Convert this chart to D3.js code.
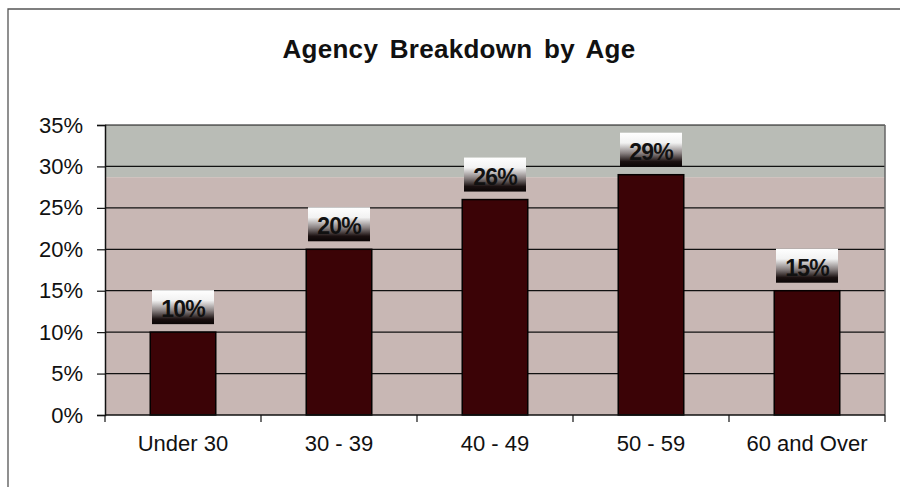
<!DOCTYPE html>
<html>
<head>
<meta charset="utf-8">
<script src="https://cdn.jsdelivr.net/npm/d3@7"></script>
<style>
  html, body { margin: 0; padding: 0; background: #fff; }
  svg { display: block; }
  text { font-family: Arial, "Liberation Sans", sans-serif; }
</style>
</head>
<body>
<svg id="chart" width="900" height="487"></svg>
<script>
// Age groups and their share of agency staff (%)
const categories = ["Under 30", "30 - 39", "40 - 49", "50 - 59", "60 and Over"];
const shares = [10, 20, 26, 29, 15];
const yTicks = [0, 5, 10, 15, 20, 25, 30, 35];
const title = "Agency Breakdown by Age";

const svg = d3.select("#chart");
const W = 900, H = 487;
const plot = { left: 105, right: 885, top: 125, bottom: 415 };

const x = d3.scaleBand()
  .domain(categories)
  .range([plot.left, plot.right])
  .paddingInner(0.58)
  .paddingOuter(0.29);

const y = d3.scaleLinear().domain([0, 35]).range([plot.bottom, plot.top]);

// outer frame (top and left edges)
svg.append("path")
  .attr("d", `M8,${H} L8,9 L${W},9`)
  .attr("fill", "none")
  .attr("stroke", "#555")
  .attr("stroke-width", 1.3);

// title
svg.append("text")
  .attr("x", 459)
  .attr("y", 58)
  .attr("text-anchor", "middle")
  .attr("font-size", 26)
  .attr("font-weight", "bold")
  .attr("word-spacing", 4)
  .attr("letter-spacing", 0.3)
  .attr("fill", "#111")
  .text(title);

// plot background: grey upper band and pinkish body
const bandEdge = y(28.7);
svg.append("rect")
  .attr("x", plot.left).attr("y", plot.top)
  .attr("width", plot.right - plot.left)
  .attr("height", bandEdge - plot.top)
  .attr("fill", "#b9bcb6");
svg.append("rect")
  .attr("x", plot.left).attr("y", bandEdge)
  .attr("width", plot.right - plot.left)
  .attr("height", plot.bottom - bandEdge)
  .attr("fill", "#c8b7b4");

// horizontal gridlines
svg.append("g")
  .selectAll("line")
  .data(yTicks.filter(d => d > 0))
  .join("line")
  .attr("x1", plot.left).attr("x2", plot.right)
  .attr("y1", d => y(d)).attr("y2", d => y(d))
  .attr("stroke", "#111")
  .attr("stroke-width", 1.2);

// right edge of plot
svg.append("line")
  .attr("x1", plot.right).attr("x2", plot.right)
  .attr("y1", plot.top).attr("y2", plot.bottom)
  .attr("stroke", "#666").attr("stroke-width", 1.5);

// bars
svg.append("g")
  .selectAll("rect")
  .data(shares)
  .join("rect")
  .attr("x", (d, i) => x(categories[i]))
  .attr("y", d => y(d))
  .attr("width", x.bandwidth())
  .attr("height", d => plot.bottom - y(d))
  .attr("fill", "#3b0306")
  .attr("stroke", "#050000")
  .attr("stroke-width", 1.5);

// value label boxes: white-to-black gradient
const defs = svg.append("defs");
const grad = defs.append("linearGradient")
  .attr("id", "labelFill")
  .attr("x1", 0).attr("y1", 0).attr("x2", 0).attr("y2", 1);
grad.append("stop").attr("offset", "0%").attr("stop-color", "#ffffff");
grad.append("stop").attr("offset", "30%").attr("stop-color", "#f2f2f2");
grad.append("stop").attr("offset", "60%").attr("stop-color", "#8a8282");
grad.append("stop").attr("offset", "85%").attr("stop-color", "#1a1010");
grad.append("stop").attr("offset", "100%").attr("stop-color", "#0a0505");

const labels = svg.append("g")
  .selectAll("g")
  .data(shares)
  .join("g")
  .attr("transform", (d, i) => `translate(${x(categories[i]) + x.bandwidth() / 2},${y(d) - 8})`);

labels.append("rect")
  .attr("x", -31).attr("y", -34)
  .attr("width", 62).attr("height", 34)
  .attr("fill", "url(#labelFill)");

labels.append("text")
  .attr("x", 0).attr("y", -7)
  .attr("text-anchor", "middle")
  .attr("font-size", 23)
  .attr("font-weight", "bold")
  .attr("letter-spacing", -0.8)
  .attr("fill", "#111")
  .text(d => d + "%");

// y axis
const yAxis = d3.axisLeft(y)
  .tickValues(yTicks)
  .tickFormat(d => d + "%")
  .tickSize(8)
  .tickPadding(14);
const yg = svg.append("g")
  .attr("transform", `translate(${plot.left},0)`)
  .call(yAxis);
yg.select(".domain").attr("stroke", "#111").attr("stroke-width", 1.5);
yg.selectAll(".tick line").attr("stroke", "#111").attr("stroke-width", 1.2);
yg.selectAll(".tick text")
  .attr("font-size", 22)
  .attr("font-family", "Arial, 'Liberation Sans', sans-serif")
  .attr("fill", "#111");

// x axis with ticks at category boundaries
const xg = svg.append("g")
  .attr("transform", `translate(0,${plot.bottom})`);
xg.append("line")
  .attr("x1", plot.left).attr("x2", plot.right)
  .attr("stroke", "#111").attr("stroke-width", 1.5);
const step = (plot.right - plot.left) / categories.length;
xg.selectAll("line.tick")
  .data(d3.range(categories.length + 1))
  .join("line")
  .attr("class", "tick")
  .attr("x1", i => plot.left + i * step)
  .attr("x2", i => plot.left + i * step)
  .attr("y1", 0).attr("y2", 7)
  .attr("stroke", "#111").attr("stroke-width", 1.2);
xg.selectAll("text")
  .data(categories)
  .join("text")
  .attr("x", d => x(d) + x.bandwidth() / 2)
  .attr("y", 36)
  .attr("text-anchor", "middle")
  .attr("font-size", 22)
  .attr("fill", "#111")
  .text(d => d);
</script>
</body>
</html>
